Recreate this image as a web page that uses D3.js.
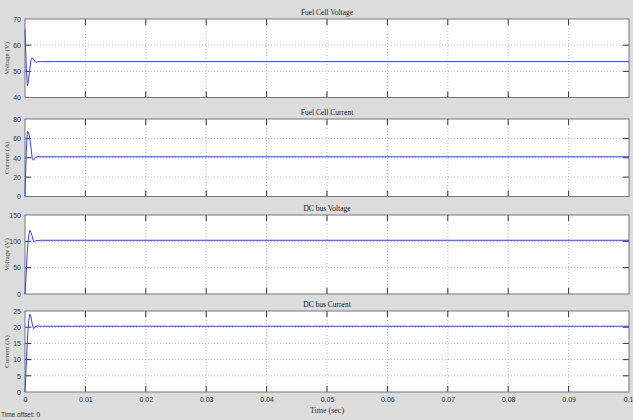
<!DOCTYPE html>
<html><head><meta charset="utf-8">
<script src="https://cdn.jsdelivr.net/npm/d3@7"></script>
<style>
html,body{margin:0;padding:0;background:#dcdcdc;}
svg{display:block;}
</style></head>
<body><svg id="c" width="633" height="420"></svg>
<script>
// ---- data ----
const titles = ["Fuel Cell Voltage", "Fuel Cell Current", "DC bus Voltage", "DC bus Current"];
const yLabels = ["Voltage (V)", "Current (A)", "Voltage (V)", "Current (A)"];
const yDomains = [[40, 70], [0, 80], [0, 150], [0, 25]];
const yTicks = [[40, 50, 60, 70], [0, 20, 40, 60, 80], [0, 50, 100, 150], [0, 5, 10, 15, 20, 25]];
const xTicks = [0, 0.01, 0.02, 0.03, 0.04, 0.05, 0.06, 0.07, 0.08, 0.09, 0.1];
const xTickLabels = ["0", "0.01", "0.02", "0.03", "0.04", "0.05", "0.06", "0.07", "0.08", "0.09", "0.1"];
const time = [0, 0.0002, 0.0004, 0.0006, 0.0008, 0.001, 0.0012, 0.0014, 0.0016, 0.0018, 0.002, 0.0025, 0.003, 0.005, 0.1];
const fcVoltage = [66, 52, 44.5, 47, 51, 54.5, 55.2, 54.6, 53.9, 53.4, 53.6, 53.7, 53.7, 53.7, 53.7];
const fcCurrent = [0, 45, 67, 66, 60, 50, 39, 37.5, 39, 40.5, 41.2, 41, 41, 41, 41];
const dcVoltage = [0, 40, 85, 110, 121, 117, 109, 100, 99, 101, 101.5, 102, 102, 102, 102];
const dcCurrent = [0, 8, 16, 22, 24, 23, 21, 19.6, 19.8, 20.3, 20.4, 20.3, 20.3, 20.3, 20.3];
const series = [fcVoltage, fcCurrent, dcVoltage, dcCurrent];
const xLabel = "Time (sec)";
const offsetText = "Time offset:  0";

// ---- layout ----
const svg = d3.select("#c");
const left = 25, right = 629;
const panels = [[19, 97.5], [119, 196.5], [215, 294], [311, 392]];
const x = d3.scaleLinear().domain([0, 0.1]).range([left, right]);
const serif = "'Liberation Serif','Times New Roman',serif";
const narrow = "'Liberation Sans Narrow','Arial Narrow','Liberation Sans',sans-serif";

panels.forEach(([top, bottom], i) => {
  const y = d3.scaleLinear().domain(yDomains[i]).range([bottom, top]);
  const g = svg.append("g");
  g.append("rect").attr("x", left).attr("y", top).attr("width", right - left).attr("height", bottom - top)
    .attr("fill", "#fff");
  // grid
  g.selectAll(".vg").data(xTicks.slice(1, -1)).enter().append("line")
    .attr("x1", d => x(d)).attr("x2", d => x(d)).attr("y1", top).attr("y2", bottom)
    .attr("stroke", "#a8a8a8").attr("stroke-width", 0.8).attr("stroke-dasharray", "1,2");
  g.selectAll(".hg").data(yTicks[i].slice(1, -1)).enter().append("line")
    .attr("x1", left).attr("x2", right).attr("y1", d => y(d)).attr("y2", d => y(d))
    .attr("stroke", "#a8a8a8").attr("stroke-width", 0.8).attr("stroke-dasharray", "1,2");
  // tick marks
  const tl = 6;
  xTicks.slice(1, -1).forEach(t => {
    g.append("line").attr("x1", x(t)).attr("x2", x(t)).attr("y1", top).attr("y2", top + tl).attr("stroke", "#333").attr("stroke-width", 1);
    g.append("line").attr("x1", x(t)).attr("x2", x(t)).attr("y1", bottom).attr("y2", bottom - tl).attr("stroke", "#333").attr("stroke-width", 1);
  });
  yTicks[i].slice(1, -1).forEach(t => {
    g.append("line").attr("x1", left).attr("x2", left + tl).attr("y1", y(t)).attr("y2", y(t)).attr("stroke", "#333").attr("stroke-width", 1);
    g.append("line").attr("x1", right).attr("x2", right - tl).attr("y1", y(t)).attr("y2", y(t)).attr("stroke", "#333").attr("stroke-width", 1);
  });
  // border
  g.append("rect").attr("x", left).attr("y", top).attr("width", right - left).attr("height", bottom - top)
    .attr("fill", "none").attr("stroke", "#777").attr("stroke-width", 1);
  // y axis labels
  const ya = d3.axisLeft(y).tickValues(yTicks[i]).tickSize(0).tickPadding(4).tickFormat(d3.format("d"));
  const yg = g.append("g").attr("transform", `translate(${left},0)`).call(ya);
  yg.select(".domain").remove();
  yg.selectAll("text").attr("font-family", narrow).attr("font-size", 7).attr("fill", "#333");
  // series line
  const line = d3.line().x((d, k) => x(time[k])).y(d => y(d));
  g.append("path").datum(series[i]).attr("d", line).attr("fill", "none")
    .attr("stroke", "#3a3aff").attr("stroke-width", 1);
  // title
  g.append("text").attr("x", (left + right) / 2).attr("y", top - 4).attr("text-anchor", "middle")
    .attr("font-family", serif).attr("font-size", 7.5).attr("fill", "#222").text(titles[i]);
  // y label
  g.append("text").attr("transform", `translate(9,${(top + bottom) / 2}) rotate(-90)`)
    .attr("text-anchor", "middle").attr("font-family", serif).attr("font-size", 7).attr("fill", "#444").text(yLabels[i]);
  if (i === 3) {
    const xa = d3.axisBottom(x).tickValues(xTicks).tickSize(0).tickPadding(5).tickFormat((d, k) => xTickLabels[k]);
    const xg = g.append("g").attr("transform", `translate(0,${bottom})`).call(xa);
    xg.select(".domain").remove();
    xg.selectAll("text").attr("font-family", narrow).attr("font-size", 7).attr("fill", "#333")
      .attr("text-anchor", (d, k) => k === xTicks.length - 1 ? "end" : "middle")
      .attr("dx", (d, k) => k === xTicks.length - 1 ? 4 : 0);
  }
});
svg.append("text").attr("x", (left + right) / 2).attr("y", 413).attr("text-anchor", "middle")
  .attr("font-family", serif).attr("font-size", 8).attr("fill", "#333").text(xLabel);
svg.append("text").attr("x", 1).attr("y", 417).attr("font-family", narrow).attr("font-size", 6.5)
  .attr("fill", "#333").text(offsetText);
</script></body></html>
